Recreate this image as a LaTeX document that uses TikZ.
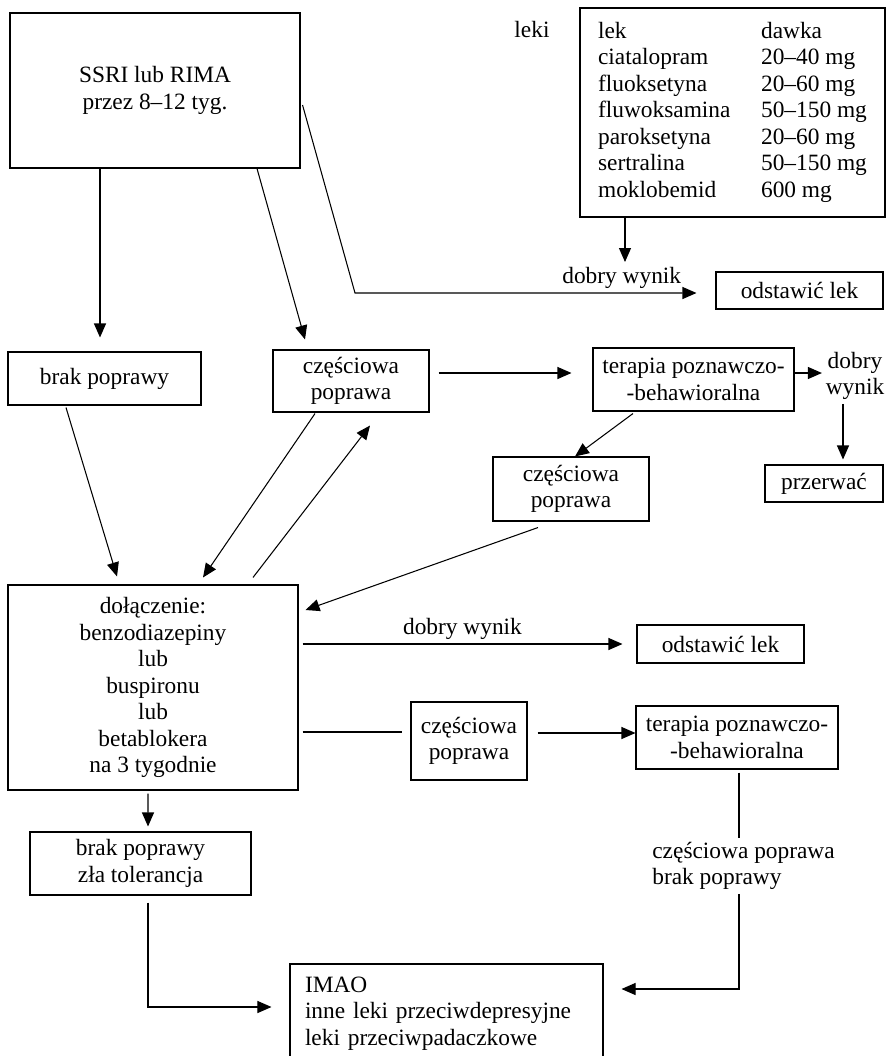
\documentclass[tikz,border=0pt]{standalone}
\usepackage{fontspec}
\setmainfont{Liberation Serif}
\usetikzlibrary{positioning,arrows.meta,calc}
\tikzset{
  box/.style ={draw, line width=0.6pt, align=center, inner sep=3pt},
  lbl/.style ={inner sep=2pt, align=center},
  fl/.style  ={-{Triangle[length=2.8mm,width=2.4mm]}, line width=0.6pt},
  ln/.style  ={line width=0.6pt}
}
\newcommand{\czp}{częściowa\\poprawa}
\newcommand{\tpb}{terapia poznawczo-\\-behawioralna}

\begin{document}
\begin{tikzpicture}[x=0.2mm, y=-0.2mm, font=\fontsize{13.3}{15.1}\selectfont]
  \useasboundingbox (0,0) rectangle (888,1056);

  % first step and the table of drugs
  \node[box, minimum width=58mm, minimum height=31mm] (ssri) at (155,90.5) {SSRI lub RIMA\\przez 8--12 tyg.};
  \node[lbl] (leki) at (532,30) {leki};
  \node[box, minimum width=61mm, minimum height=41.8mm] (tab) at (732.5,112.5) {%
    \begin{tabular}{@{}p{32.6mm}@{}l@{}}
      lek & dawka\\
      ciatalopram & 20--40 mg\\
      fluoksetyna & 20--60 mg\\
      fluwoksamina & 50--150 mg\\
      paroksetyna & 20--60 mg\\
      sertralina & 50--150 mg\\
      moklobemid & 600 mg
    \end{tabular}};
  \node[box, minimum width=33.4mm, minimum height=7.4mm] (odst1) at (799.5,290.5) {odstawić lek};
  \coordinate (k1) at (355,293);
  \coordinate (t1) at (625,262);

  % second row
  \node[box, minimum width=38.6mm, minimum height=10.6mm] (brak1) at (104.5,378.5) {brak poprawy};
  \node[box, minimum width=31.2mm, minimum height=12.4mm] (cz1) at (351,381) {\czp};
  \node[box, minimum width=40.2mm, minimum height=12.6mm] (ter1) at (693.5,379.5) {\tpb};
  \node[lbl] (lab1) at (855,376) {dobry\\wynik};
  \node[box, minimum width=23.6mm, minimum height=7.4mm] (przerw) at (824,483.5) {przerwać};
  \node[box, minimum width=31.2mm, minimum height=12.8mm] (cz2) at (571,489) {\czp};

  % add-on step
  \node[box, minimum width=58mm, minimum height=41mm] (dol) at (153,687.5)
    {dołączenie:\\benzodiazepiny\\lub\\buspironu\\lub\\betablokera\\na 3 tygodnie};
  \node[box, minimum width=33.4mm, minimum height=7.6mm] (odst2) at (720.5,644) {odstawić lek};
  \node[box, minimum width=23.2mm, minimum height=15.6mm] (cz3) at (469,741) {\czp};
  \node[box, minimum width=40.4mm, minimum height=12.6mm] (ter2) at (737,737.5) {\tpb};
  \node[lbl, anchor=west, align=left] (lab2) at (648.5,866) {częściowa poprawa\\brak poprawy};
  \node[box, minimum width=44.2mm, minimum height=12.6mm] (brak2) at (140.5,863.5) {brak poprawy\\zła tolerancja};
  \node[box, align=left, text width=56.6mm, minimum width=62.6mm, minimum height=19.8mm] (imao) at (446.5,1013.5)
    {IMAO\\inne leki przeciwdepresyjne\\leki przeciwpadaczkowe};

  % connectors
  \draw[fl, shorten >=2.8mm] ($(ssri.south)+(-55,0)$) -- ($(brak1.north)+(-4.5,0)$);
  \draw[fl] ($(ssri.south)+(102,0)$) -- ($(cz1.north)+(-46,-10)$);
  \draw[fl, shorten >=3.8mm] ($(ssri.east)+(2,14.5)$) -- (k1)
    -- node[lbl, above, pos=0.74] {dobry wynik} (k1 -| odst1.west);
  \draw[fl] (tab.south -| t1) -- (t1);

  \draw[fl] ($(brak1.south)+(-38.5,2)$) -- ($(dol.north)+(-36,-8)$);
  \draw[fl] ($(cz1.south)+(-36,1)$) -- ($(dol.north)+(50,-7)$);
  \draw[fl] ($(dol.north)+(100,-7)$) -- ($(cz1.south)+(19,13)$);
  \draw[fl] ($(cz1.east)+(9,-8)$) -- ($(cz1.east -| ter1.west)+(-21,-8)$);
  \draw[fl] ($(ter1.east)+(0,-6.5)$) -- ($(ter1.east -| lab1.west)+(0,-6.5)$);
  \draw[fl] ($(lab1.south)+(-12,0)$) -- ($(lab1.south |- przerw.north)+(-12,-5)$);
  \draw[fl] ($(ter1.south)+(-60.5,2)$) -- ($(cz2.north)+(4,0)$);
  \draw[fl] ($(cz2.south)+(-33,6)$) -- ($(dol.east)+(7,-77.5)$);

  \draw[fl] ($(dol.east |- odst2.west)+(4,0)$) -- node[lbl, above] {dobry wynik} ($(odst2.west)+(-14,0)$);
  \draw[ln] ($(dol.east |- cz3.west)+(4,-9)$) -- ($(cz3.west)+(-8,-9)$);
  \draw[fl] ($(cz3.east)+(10,-8)$) -- ($(cz3.east -| ter2.west)+(0,-8)$);
  \draw[ln] ($(ter2.south)+(2,3)$) -- ($(ter2.south |- lab2.north)+(2,0)$);
  \draw[fl] ($(ter2.south |- lab2.south)+(2,0)$) |- ($(imao.east)+(18,-24.5)$);
  \draw[fl] ($(dol.south)+(-5,3)$) -- ($(brak2.north)+(7.5,-5)$);
  \draw[fl] ($(brak2.south)+(7.5,7)$) |- ($(imao.west)+(-18,-6.5)$);
\end{tikzpicture}
\end{document}
